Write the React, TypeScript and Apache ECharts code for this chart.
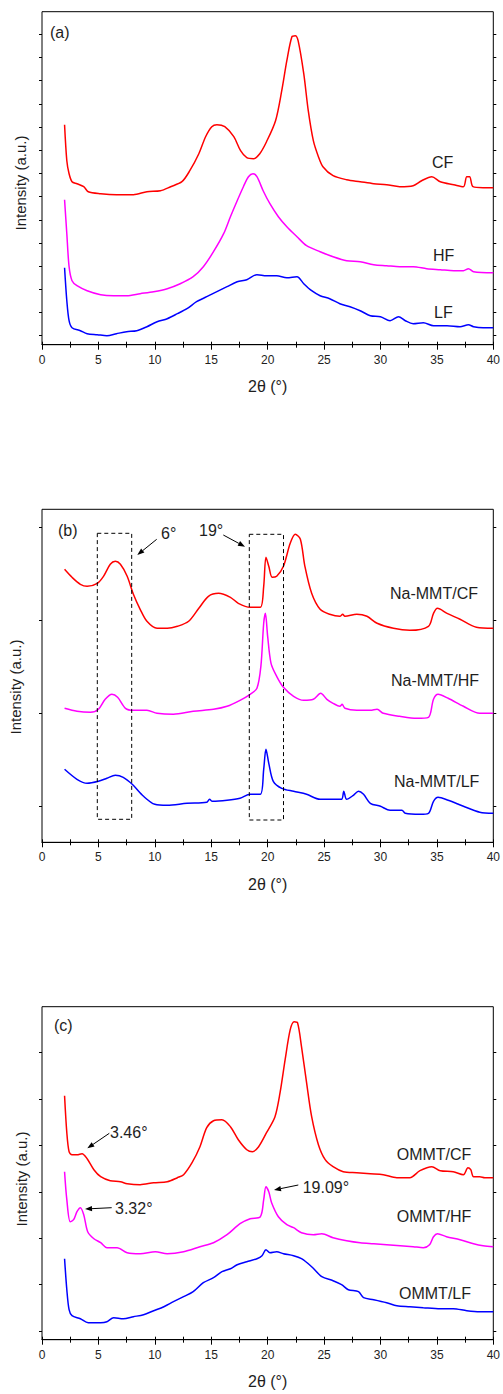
import React, { useEffect, useRef } from "react";
import * as echarts from "echarts";

// 2θ (°) vs intensity (a.u.)
const aCF = [[2.0,220],[2.2,184],[2.4,171],[2.66,163],[3.1,161],[3.7,158],[4.1,153],[5.2,151],[6.6,150],[8.1,150],[9.3,153],[10.5,154],[11.4,158],[12.4,163],[13.1,174],[13.9,191],[14.5,208],[15.05,218],[15.5,220],[16.2,218],[17.0,208],[17.6,194],[18.15,187],[18.75,186],[19.3,191],[19.9,203],[20.7,224],[21.25,254],[21.7,284],[22.15,308],[22.45,309],[22.7,304],[23.2,271],[23.6,234],[24.05,204],[24.5,188],[24.9,178],[25.8,169],[27.0,165],[28.2,163],[29.4,161],[30.55,160],[31.7,158],[32.9,159],[33.65,164],[34.55,168],[35.3,163],[36.5,160],[37.35,158],[37.65,168],[37.9,168],[38.2,158],[39.1,157],[40,157]];
const aHF = [[2.0,145],[2.2,111],[2.4,78],[2.66,64],[3.1,59],[4.0,54],[5.2,50],[6.35,49],[7.5,49],[8.7,51],[9.9,53],[11.1,56],[12.25,61],[13.4,68],[14.3,78],[15.2,93],[16.1,111],[16.7,128],[17.3,144],[17.85,158],[18.3,168],[18.7,171],[19.05,168],[19.6,154],[20.2,141],[20.95,128],[21.7,118],[22.6,108],[23.45,99],[24.65,93],[25.8,88],[27.0,84],[28.2,83],[29.4,80],[30.55,79],[31.7,78],[32.9,78],[34.1,76],[35.3,75],[36.5,74],[37.35,74],[37.8,76],[38.25,73],[40,72]];
const aLF = [[2.0,77],[2.2,44],[2.4,24],[2.66,17],[3.4,14],[4.0,11],[4.9,10],[5.75,9],[6.6,11],[7.5,13],[8.4,14],[9.3,18],[10.2,23],[11.1,26],[12.0,31],[12.85,36],[13.7,43],[14.6,48],[15.5,53],[16.4,58],[17.3,63],[18.15,65],[19.05,70],[19.9,69],[20.8,69],[21.7,67],[22.6,68],[23.2,61],[23.9,54],[24.65,49],[25.5,46],[26.4,41],[27.3,38],[28.2,34],[29.1,29],[30.0,28],[30.85,24],[31.6,28],[32.2,24],[32.9,21],[33.8,22],[34.7,19],[35.9,19],[37.05,18],[37.8,20],[38.25,18],[39.1,17],[40,17]];

const bCF = [[2.0,273],[2.66,265],[3.4,258],[4.0,256],[4.9,259],[5.45,266],[6.05,278],[6.5,281],[6.95,278],[7.55,266],[8.1,248],[8.7,233],[9.3,221],[10.2,214],[11.1,214],[12.0,216],[13.0,221],[13.9,234],[14.75,246],[15.65,249],[16.7,245],[17.4,239],[18.45,235],[19.35,235],[19.65,256],[19.85,285],[20.1,276],[20.4,265],[20.8,266],[21.4,276],[22.0,299],[22.45,308],[22.9,303],[23.3,276],[23.9,249],[24.65,233],[25.5,228],[26.4,226],[26.65,228],[26.85,226],[27.9,228],[28.8,226],[29.7,219],[31.15,214],[32.6,212],[34.25,216],[34.7,229],[35.05,234],[35.9,229],[37.05,223],[38.5,215],[40,214]];
const bHF = [[2.0,134],[3.1,131],[4.3,130],[5.0,133],[5.6,143],[6.2,148],[6.7,145],[7.4,134],[8.1,132],[9.3,132],[10.2,129],[11.65,128],[13.4,131],[15.2,133],[16.4,136],[17.55,142],[18.45,148],[19.05,154],[19.4,176],[19.65,219],[19.8,229],[20.0,206],[20.3,179],[20.8,166],[21.4,155],[22.3,146],[23.2,142],[24.05,143],[24.7,149],[25.25,143],[25.8,139],[26.4,136],[26.6,138],[26.85,134],[27.9,132],[29.1,132],[29.7,133],[30.25,129],[31.7,126],[33.2,124],[34.25,125],[34.7,143],[35.1,148],[36.0,144],[37.35,136],[38.8,129],[40,129]];
const bLF = [[2.0,73],[3.1,63],[4.0,59],[5.0,61],[5.75,64],[6.5,67],[7.2,65],[8.0,58],[9.0,46],[10.0,38],[11.1,37],[12.85,39],[14.6,40],[14.85,43],[15.1,41],[16.4,42],[17.55,44],[18.45,48],[19.35,48],[19.65,73],[19.85,93],[20.1,79],[20.5,61],[21.25,54],[22.3,51],[23.45,48],[24.65,43],[25.8,43],[26.55,43],[26.75,51],[27.0,43],[27.6,47],[28.05,51],[28.5,48],[29.1,39],[30.0,36],[30.85,32],[31.9,32],[32.2,29],[33.5,28],[34.25,29],[34.7,41],[35.1,45],[36.0,42],[37.35,36],[38.8,30],[40,29]];

const cCF = [[2.0,244],[2.2,207],[2.4,188],[2.66,185],[3.1,185],[3.55,186],[4.0,181],[4.6,170],[5.2,163],[6.05,159],[6.95,158],[7.55,156],[8.7,155],[9.9,157],[11.1,158],[12.0,162],[12.55,165],[13.3,177],[14.0,193],[14.6,212],[15.2,219],[15.95,220],[16.7,213],[17.4,200],[18.15,190],[18.65,188],[19.2,193],[19.9,207],[20.65,223],[21.1,247],[21.55,280],[22.0,310],[22.35,318],[22.65,317],[23.0,293],[23.45,257],[23.9,223],[24.5,195],[25.1,180],[25.8,173],[26.7,168],[27.9,167],[29.1,166],[30.25,165],[31.45,162],[32.6,162],[33.5,169],[34.55,173],[35.3,169],[36.45,168],[37.35,165],[37.75,172],[38.0,170],[38.25,163],[38.8,163],[39.25,162],[40,162]];
const cHF = [[2.0,168],[2.2,140],[2.5,118],[2.8,120],[3.1,128],[3.4,132],[3.7,125],[4.05,108],[4.6,101],[5.2,97],[5.75,92],[6.65,92],[7.55,87],[8.7,86],[10.05,88],[11.1,86],[12.55,88],[14.0,93],[15.2,97],[16.4,105],[17.55,116],[18.45,121],[19.35,123],[19.65,140],[19.85,153],[20.1,148],[20.35,137],[20.95,123],[21.7,115],[22.3,112],[23.0,107],[24.05,105],[24.8,106],[25.8,102],[27.0,99],[28.2,97],[29.4,96],[30.55,95],[31.75,94],[32.9,93],[33.8,92],[34.35,95],[34.7,103],[35.05,106],[35.85,103],[37.05,100],[38.25,96],[39.1,94],[40,93]];
const cLF = [[2.0,81],[2.2,50],[2.4,30],[2.66,24],[3.4,21],[4.1,17],[5.2,17],[5.75,18],[6.35,22],[7.2,21],[8.1,23],[9.0,25],[9.9,29],[10.8,33],[11.65,38],[12.55,43],[13.4,48],[14.3,57],[15.2,62],[15.95,68],[16.7,71],[17.3,75],[18.15,78],[19.05,81],[19.5,84],[19.85,90],[20.2,87],[20.8,88],[21.4,86],[22.3,84],[23.0,81],[23.9,73],[24.8,63],[25.8,59],[26.55,55],[27.15,50],[28.05,48],[28.5,42],[29.4,40],[30.55,37],[31.45,34],[32.6,33],[33.8,32],[35.3,31],[36.45,31],[37.65,29],[38.8,28],[40,28]];

const xTickLabels = ["0", "5", "10", "15", "20", "25", "30", "35", "40"];
const panelTags = ["(a)", "(b)", "(c)"];
const seriesNames = [
  ["CF", "HF", "LF"],
  ["Na-MMT/CF", "Na-MMT/HF", "Na-MMT/LF"],
  ["OMMT/CF", "OMMT/HF", "OMMT/LF"],
];
const seriesData = [
  [aCF, aHF, aLF],
  [bCF, bHF, bLF],
  [cCF, cHF, cLF],
];
const colors = ["#ff0000", "#ff00ff", "#0000ff"];

const FONT = "'Liberation Sans', Arial, Helvetica, sans-serif";
const TXT = "#1e1e1e";

export default function App() {
  const ref = useRef<HTMLDivElement>(null);
  useEffect(() => {
    if (!ref.current) return;
    const chart = echarts.init(ref.current, undefined, { renderer: "svg" });

    const L = 42, W = 451.3, H = 333;
    const layout = [
      { top: 11.7, tickTop: 34.3, tickH: 301.4, tickN: 13, yTitle: [20.5, 183], tag: [50, 32], labels: [[432, 162.7], [433, 255], [434, 312.3]] },
      { top: 509.3, tickTop: 527.7, tickH: 279, tickN: 3, yTitle: [15, 687], tag: [58, 530.7], labels: [[390, 593.3], [391, 680], [394, 781.7]] },
      { top: 1006.7, tickTop: 1052.7, tickH: 278.3, tickN: 6, yTitle: [21, 1179], tag: [54, 1025.7], labels: [[396.7, 1154.3], [396.7, 1216.7], [399, 1293.3]] },
    ];

    const grid: any[] = [];
    const xAxis: any[] = [];
    const yAxis: any[] = [];
    const series: any[] = [];
    const graphic: any[] = [];

    const txt = (x: number, y: number, text: string, size: number, extra: any = {}) => ({
      type: "text",
      x, y, z: 100,
      ...extra,
      style: {
        text,
        font: `${size}px ${FONT}`,
        fill: TXT,
        align: extra.align || "left",
        textAlign: extra.align || "left",
        verticalAlign: "middle",
        textVerticalAlign: "middle",
      },
    });

    layout.forEach((p, i) => {
      grid.push({ left: L, top: p.top, width: W, height: H, show: true, borderColor: "#000", borderWidth: 1, backgroundColor: "transparent" });
      grid.push({ left: L, top: p.tickTop, width: W, height: p.tickH, show: false });
      const g = 2 * i;
      xAxis.push({
        type: "value", gridIndex: g, min: 0, max: 40, interval: 5, position: "bottom",
        axisLine: { show: true, onZero: false, lineStyle: { color: "#000", width: 1.2 } },
        axisTick: { show: true, inside: false, length: 5, lineStyle: { color: "#000", width: 1 } },
        minorTick: { show: true, splitNumber: 2, length: 3, lineStyle: { color: "#000", width: 1 } },
        axisLabel: { show: true, fontSize: 12, color: TXT, margin: 9, fontFamily: FONT,
          formatter: (v: number) => xTickLabels[Math.round(v / 5)] ?? String(v) },
        splitLine: { show: false }, minorSplitLine: { show: false },
        name: "2θ (°)", nameLocation: "middle", nameGap: 34,
        nameTextStyle: { fontSize: 16, color: TXT, fontFamily: FONT },
      });
      xAxis.push({
        type: "value", gridIndex: g, min: 0, max: 40, interval: 2.5, position: "top",
        axisLine: { show: false },
        axisTick: { show: true, inside: false, length: 3, lineStyle: { color: "#000", width: 1 } },
        axisLabel: { show: false }, splitLine: { show: false },
      });
      xAxis.push({ type: "value", gridIndex: g + 1, min: 0, max: 1, show: false });

      yAxis.push({ type: "value", gridIndex: g, min: 0, max: H, show: false, splitLine: { show: false } });
      ["left", "right"].forEach((pos) =>
        yAxis.push({
          type: "value", gridIndex: g + 1, min: 0, max: p.tickN, interval: 1, position: pos,
          axisLine: { show: false },
          axisTick: { show: true, inside: false, length: 3, lineStyle: { color: "#000", width: 1 } },
          axisLabel: { show: false }, splitLine: { show: false },
        })
      );

      seriesData[i].forEach((d, k) => {
        series.push({
          type: "line", name: seriesNames[i][k], data: d,
          xAxisIndex: 3 * i, yAxisIndex: 3 * i,
          showSymbol: false, symbol: "none", smooth: 0.3,
          lineStyle: { color: colors[k], width: 1.5 }, itemStyle: { color: colors[k] },
          clip: true,
        });
        graphic.push(txt(p.labels[k][0], p.labels[k][1], seriesNames[i][k], 16));
      });

      graphic.push(txt(p.tag[0], p.tag[1], panelTags[i], 16));
      graphic.push(txt(p.yTitle[0], p.yTitle[1], "Intensity (a.u.)", 15, { rotation: Math.PI / 2, align: "center" }));
    });

    const arrow = (x1: number, y1: number, x2: number, y2: number) => {
      const a = Math.atan2(y2 - y1, x2 - x1);
      const len = 7, hw = 2.6;
      const bx = x2 - len * Math.cos(a), by = y2 - len * Math.sin(a);
      const nx = -Math.sin(a), ny = Math.cos(a);
      graphic.push({ type: "line", z: 100, shape: { x1, y1, x2: bx, y2: by }, style: { stroke: "#000", lineWidth: 1 } });
      graphic.push({ type: "polygon", z: 100, shape: { points: [[x2, y2], [bx + hw * nx, by + hw * ny], [bx - hw * nx, by - hw * ny]] }, style: { fill: "#000" } });
    };
    const dashBox = (x1: number, y1: number, x2: number, y2: number) =>
      graphic.push({ type: "rect", z: 100, shape: { x: x1, y: y1, width: x2 - x1, height: y2 - y1 }, style: { fill: "none", stroke: "#000", lineWidth: 1, lineDash: [4, 3] } });

    dashBox(97.3, 533.3, 131.7, 819.3);
    dashBox(249.3, 534.3, 283.5, 820);
    arrow(156.7, 539.3, 137.3, 555);
    arrow(223.3, 535, 245, 546.7);
    graphic.push(txt(161, 533.3, "6°", 16));
    graphic.push(txt(199, 530.7, "19°", 16));

    arrow(109.3, 1133.3, 87.3, 1148.3);
    arrow(111.7, 1207.7, 85, 1209);
    arrow(298.3, 1185, 274, 1190);
    graphic.push(txt(110, 1132.3, "3.46°", 16));
    graphic.push(txt(115, 1208.3, "3.32°", 16));
    graphic.push(txt(302.7, 1187.7, "19.09°", 16));

    chart.setOption({
      animation: false,
      backgroundColor: "#fff",
      textStyle: { fontFamily: FONT },
      grid, xAxis, yAxis, series, graphic,
    });
    return () => chart.dispose();
  }, []);

  return <div ref={ref} style={{ position: "absolute", left: 0, top: 0, width: 503, height: 1394 }} />;
}
